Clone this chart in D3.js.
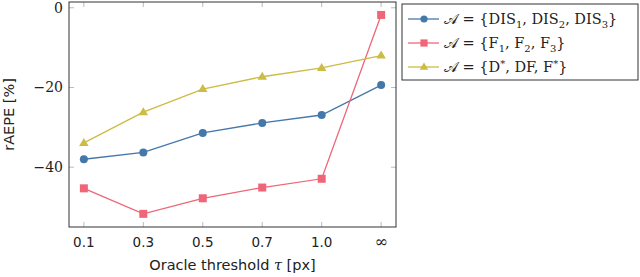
<!DOCTYPE html>
<html>
<head>
<meta charset="utf-8">
<script src="https://cdn.jsdelivr.net/npm/d3@7"></script>
<style>
  body { margin: 0; background: #fff; }
  svg text { fill: #222; }
</style>
</head>
<body>
<div id="chart"></div>
<script>
// thresholds on the x axis
var thresholds = ["0.1", "0.3", "0.5", "0.7", "1.0", "\u221E"];
// rAEPE values per series
var disValues = [-38.0, -36.3, -31.4, -28.9, -26.9, -19.4];
var fValues = [-45.3, -51.7, -47.8, -45.1, -42.9, -1.8];
var mixValues = [-33.9, -26.2, -20.4, -17.3, -15.1, -12.0];
var yTicks = [0, -20, -40];

var seriesNames = ["dis", "f", "mix"];

var width = 640, height = 277;
var margin = {top: 2, right: 244, bottom: 50, left: 69};
var plotW = width - margin.left - margin.right;
var plotH = height - margin.top - margin.bottom;

var svg = d3.select("#chart").append("svg")
    .attr("width", width)
    .attr("height", height);

var g = svg.append("g")
    .attr("transform", "translate(" + margin.left + "," + margin.top + ")");

var x = d3.scalePoint()
    .domain(thresholds)
    .range([0, plotW])
    .padding(0.25);

var y = d3.scaleLinear()
    .domain([-55, 1.45])
    .range([plotH, 0]);

var series = [
    {name: seriesNames[0], values: disValues, color: "#4477AA", marker: "circle"},
    {name: seriesNames[1], values: fValues, color: "#EE6677", marker: "square"},
    {name: seriesNames[2], values: mixValues, color: "#CCBB44", marker: "triangle"}
];

// tick marks inside the frame, on both sides
var tickLen = 5;
g.selectAll("line.ytick").data(yTicks).enter().append("line")
    .attr("class", "ytick")
    .attr("x1", 0).attr("x2", tickLen)
    .attr("y1", function(d){ return y(d); }).attr("y2", function(d){ return y(d); })
    .attr("stroke", "#aaa").attr("stroke-width", 0.8);
g.selectAll("line.ytick2").data(yTicks).enter().append("line")
    .attr("class", "ytick2")
    .attr("x1", plotW - tickLen).attr("x2", plotW)
    .attr("y1", function(d){ return y(d); }).attr("y2", function(d){ return y(d); })
    .attr("stroke", "#aaa").attr("stroke-width", 0.8);
g.selectAll("line.xtick").data(thresholds).enter().append("line")
    .attr("class", "xtick")
    .attr("x1", function(d){ return x(d); }).attr("x2", function(d){ return x(d); })
    .attr("y1", plotH).attr("y2", plotH - tickLen)
    .attr("stroke", "#aaa").attr("stroke-width", 0.8);
g.selectAll("line.xtick2").data(thresholds).enter().append("line")
    .attr("class", "xtick2")
    .attr("x1", function(d){ return x(d); }).attr("x2", function(d){ return x(d); })
    .attr("y1", 0).attr("y2", tickLen)
    .attr("stroke", "#aaa").attr("stroke-width", 0.8);

// tick labels
g.selectAll("text.ylab").data(yTicks).enter().append("text")
    .attr("class", "ylab")
    .attr("x", -6)
    .attr("y", function(d){ return y(d); })
    .attr("dy", "0.35em")
    .attr("text-anchor", "end")
    .style("font-family", "DejaVu Serif")
    .style("font-size", "14px")
    .text(function(d){ return d < 0 ? "\u2212" + Math.abs(d) : d; });

g.selectAll("text.xlab").data(thresholds).enter().append("text")
    .attr("class", "xlab")
    .attr("x", function(d){ return x(d); })
    .attr("y", plotH + 20)
    .attr("text-anchor", "middle")
    .style("font-family", function(d){ return d === "\u221E" ? "DejaVu Serif" : "DejaVu Sans"; })
    .style("font-size", function(d){ return d === "\u221E" ? "16px" : "13.5px"; })
    .text(function(d){ return d; });

// axis titles
var xt = g.append("text")
    .attr("x", plotW / 2)
    .attr("y", plotH + 43)
    .attr("text-anchor", "middle")
    .style("font-family", "DejaVu Sans")
    .style("font-size", "14.5px");
xt.append("tspan").text("Oracle threshold ");
xt.append("tspan").style("font-family", "DejaVu Serif").style("font-style", "italic").text("\u03C4");
xt.append("tspan").text(" [px]");

g.append("text")
    .attr("transform", "translate(-55," + (plotH / 2) + ") rotate(-90)")
    .attr("text-anchor", "middle")
    .style("font-family", "DejaVu Sans")
    .style("font-size", "14.5px")
    .text("rAEPE [%]");

// lines
var line = d3.line()
    .x(function(d, i){ return x(thresholds[i]); })
    .y(function(d){ return y(d); });

function drawMarker(sel, type, color, size) {
    if (type === "circle") {
        sel.append("circle").attr("r", size).attr("fill", color);
    } else if (type === "square") {
        sel.append("rect").attr("x", -size).attr("y", -size)
            .attr("width", 2 * size).attr("height", 2 * size).attr("fill", color);
    } else {
        var s = size * 1.25;
        sel.append("path")
            .attr("d", "M0," + (-s) + "L" + (s * 0.95) + "," + (s * 0.6) + "L" + (-s * 0.95) + "," + (s * 0.6) + "Z")
            .attr("fill", color);
    }
}

series.forEach(function(s){
    g.append("path")
        .datum(s.values)
        .attr("d", line)
        .attr("fill", "none")
        .attr("stroke", s.color)
        .attr("stroke-width", 1.3);
    g.selectAll("g.pt-" + s.name).data(s.values).enter().append("g")
        .attr("class", "pt-" + s.name)
        .attr("transform", function(d, i){ return "translate(" + x(thresholds[i]) + "," + y(d) + ")"; })
        .each(function(){ drawMarker(d3.select(this), s.marker, s.color, 4); });
});

// frame
g.append("rect")
    .attr("width", plotW).attr("height", plotH)
    .attr("fill", "none").attr("stroke", "#333").attr("stroke-width", 1);

// legend
var legend = svg.append("g").attr("transform", "translate(402,4)");
legend.append("rect")
    .attr("width", 236).attr("height", 76)
    .attr("fill", "#fff").attr("stroke", "#333").attr("stroke-width", 1);

var legendLabels = [
    [["\u{1D49C} = {DIS", ""], ["1", "sub"], [", DIS", ""], ["2", "sub"], [", DIS", ""], ["3", "sub"], ["}", ""]],
    [["\u{1D49C} = {F", ""], ["1", "sub"], [", F", ""], ["2", "sub"], [", F", ""], ["3", "sub"], ["}", ""]],
    [["\u{1D49C} = {D", ""], ["*", "sup"], [", DF, F", ""], ["*", "sup"], ["}", ""]]
];

series.forEach(function(s, i){
    var row = legend.append("g").attr("transform", "translate(0," + (15 + i * 24) + ")");
    row.append("line").attr("x1", 6).attr("x2", 37)
        .attr("stroke", s.color).attr("stroke-width", 1.3);
    var m = row.append("g").attr("transform", "translate(22,0)");
    drawMarker(m, s.marker, s.color, 3.6);
    var t = row.append("text")
        .attr("x", 42).attr("y", 0).attr("dy", "0.35em")
        .style("font-family", "DejaVu Serif")
        .style("font-size", "14.5px");
    legendLabels[i].forEach(function(part){
        var ts = t.append("tspan").text(part[0]);
        if (part[1] === "sub") ts.attr("dy", "4").style("font-size", "10px");
        if (part[1] === "sup") ts.attr("dy", "-5").style("font-size", "10px");
    });
    // re-align baseline after sub/sup
    t.selectAll("tspan").each(function(d, k, nodes){
        var prev = k > 0 ? d3.select(nodes[k - 1]) : null;
        if (prev && prev.attr("dy") && !d3.select(this).attr("dy")) {
            d3.select(this).attr("dy", -parseFloat(prev.attr("dy")));
        }
    });
});
</script>
</body>
</html>
